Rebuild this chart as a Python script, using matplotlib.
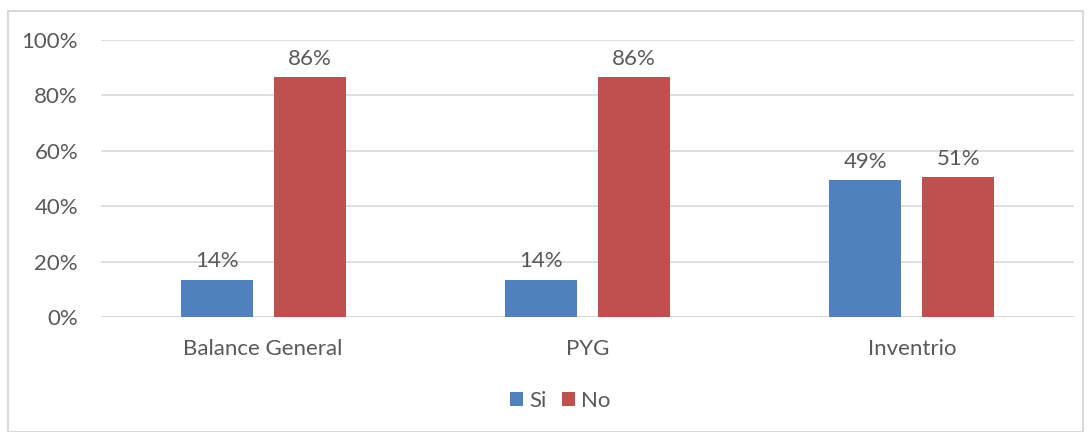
import numpy as np
import matplotlib.pyplot as plt
from matplotlib.patches import Rectangle

categories = ["Balance General", "PYG", "Inventrio"]
si_values = [0.135, 0.135, 0.494]
no_values = [0.865, 0.865, 0.506]
si_labels = ["14%", "14%", "49%"]
no_labels = ["86%", "86%", "51%"]

blue = "#4F81BD"
red = "#C0504D"
text_col = "#595959"
grid_col = "#D9D9D9"

plt.rcParams['font.family'] = ['Lato', 'DejaVu Sans']
fs = 16

fig = plt.figure(figsize=(10.91, 4.32), dpi=100)
ax = fig.add_axes([101 / 1091, 1 - 317 / 432, 973 / 1091, 277 / 432])

x = np.arange(len(categories))
w = 0.222
b1 = ax.bar(x - 0.143, si_values, w, color=blue, label="Si", zorder=3)
b2 = ax.bar(x + 0.143, no_values, w, color=red, label="No", zorder=3)

for bars, labels in ((b1, si_labels), (b2, no_labels)):
    for rect, lab in zip(bars, labels):
        ax.annotate(lab, (rect.get_x() + rect.get_width() / 2, rect.get_height()),
                    xytext=(0, 6), textcoords="offset points", ha="center", va="bottom",
                    fontsize=fs, color=text_col)

ax.set_xlim(-0.5, 2.5)
ax.set_ylim(0, 1)
ax.set_yticks(np.arange(0, 1.01, 0.2))
ax.set_yticklabels([f"{int(round(v * 100))}%" for v in np.arange(0, 1.01, 0.2)])
ax.set_xticks(x)
ax.set_xticklabels(categories)
ax.tick_params(axis="both", length=0, labelsize=fs, labelcolor=text_col)
ax.tick_params(axis="y", pad=16.5)
ax.tick_params(axis="x", pad=16)
ax.yaxis.grid(True, color=grid_col, linewidth=1.2, zorder=0)
for s in ax.spines.values():
    s.set_visible(False)
ax.axhline(0, color=grid_col, linewidth=1.2, zorder=2)

fig.legend(loc="center", bbox_to_anchor=(560 / 1091, 1 - 401 / 432), ncol=2, frameon=False,
           fontsize=fs, labelcolor=text_col, handlelength=0.6, handleheight=0.6,
           handletextpad=0.25, columnspacing=0.7)

fig.patches.append(Rectangle((8 / 1091, 0), 1075 / 1091, 1 - 11 / 432, transform=fig.transFigure,
                             fill=False, edgecolor=grid_col, linewidth=1.5))

fig.savefig("out.png", dpi=100)
